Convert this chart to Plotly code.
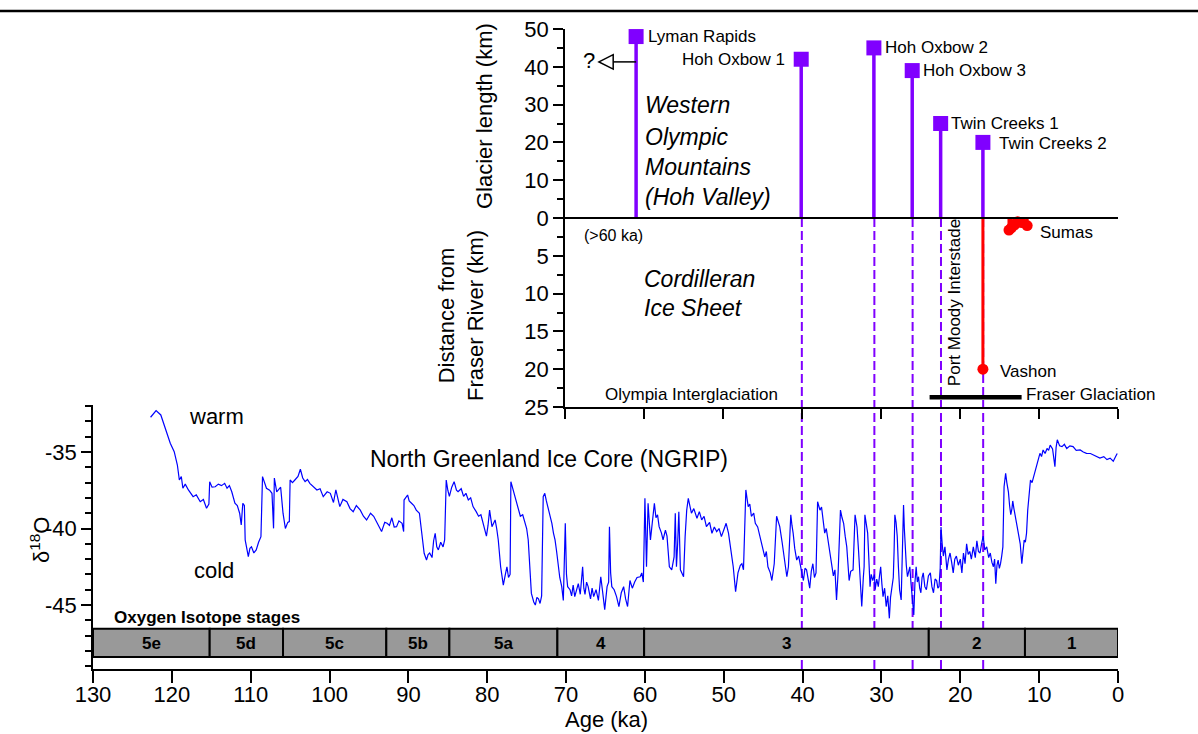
import plotly.graph_objects as go

W, H = 1198, 734
FONT = "Arial, Liberation Sans, sans-serif"
PURPLE = "#8000FF"
RED = "#FF0000"

# ---------------- data ----------------
ngrip_age = [122.7, 122.0, 121.4, 120.9, 120.5, 120.2, 119.7, 119.3, 119.05, 118.8, 118.6, 118.3, 117.9, 117.6, 117.3,
             116.9, 116.4, 116.0, 115.6, 115.3, 115.2, 114.9, 114.5, 114.1, 113.7, 113.3, 113.0, 112.7, 112.4, 112.0,
             111.7, 111.4, 111.2, 111.0, 110.8, 110.7, 110.5, 110.3, 110.1, 109.9, 109.6, 109.3, 109.0, 108.7, 108.5,
             108.2, 108.0, 107.6, 107.3, 107.1, 107.0, 106.7, 106.5, 106.2, 105.9, 105.6, 105.3, 105.1, 105.0, 104.7,
             104.4, 104.0, 103.7, 103.4, 103.1, 102.8, 102.5, 102.0, 101.6, 101.2, 100.8, 100.3, 99.9, 99.5, 99.2,
             98.7, 98.3, 97.8, 97.4, 97.0, 96.6, 96.1, 95.7, 95.3, 94.8, 94.4, 93.9, 93.4, 93.0, 92.7,
             92.4, 92.1, 91.8, 91.5, 91.2, 90.8, 90.6, 90.55, 90.1, 89.9, 89.6, 89.3, 89.0, 88.6, 88.3,
             88.0, 87.7, 87.5, 87.3, 87.0, 86.8, 86.6, 86.4, 86.2, 85.9, 85.6, 85.4, 85.2, 85.0, 84.8,
             84.5, 84.2, 83.9, 83.7, 83.3, 83.0, 82.7, 82.4, 82.1, 81.8, 81.4, 81.1, 80.8, 80.5, 80.1,
             79.9, 79.7, 79.4, 79.0, 78.8, 78.6, 78.3, 78.1, 77.96, 77.7, 77.5, 77.3, 77.1, 77.0, 76.8,
             76.5, 76.2, 75.8, 75.5, 75.2, 75.0, 74.8, 74.6, 74.4, 74.1, 73.9, 73.7, 73.5, 73.3, 73.1,
             72.9, 72.7, 72.5, 72.3, 72.0, 71.8, 71.6, 71.4, 71.2, 71.0, 70.8, 70.55, 70.35, 70.1, 69.95,
             69.8, 69.5, 69.3, 69.1, 68.9, 68.7, 68.45, 68.2, 67.9, 67.75, 67.6, 67.4, 67.2, 66.9, 66.7,
             66.5, 66.2, 65.9, 65.6, 65.35, 65.1, 64.8, 64.6, 64.5, 64.35, 64.2, 63.9, 63.6, 63.3, 63.0,
             62.7, 62.45, 62.2, 61.9, 61.6, 61.3, 61.0, 60.6, 60.4, 60.2, 60.0, 59.8, 59.6, 59.3, 59.0,
             58.8, 58.6, 58.4, 58.2, 57.9, 57.7, 57.4, 57.2, 56.9, 56.6, 56.3, 56.15, 56.0, 55.85, 55.7,
             55.5, 55.1, 54.9, 54.7, 54.5, 54.3, 54.1, 53.8, 53.4, 53.1, 52.8, 52.5, 52.2, 51.8, 51.5,
             51.2, 50.9, 50.6, 50.3, 50.0, 49.7, 49.4, 49.2, 48.8, 48.5, 48.3, 48.2, 47.9, 47.7, 47.5,
             47.2, 47.0, 46.9, 46.7, 46.5, 46.2, 46.0, 45.7, 45.5, 45.3, 45.1, 44.8, 44.6, 44.4, 44.1,
             43.9, 43.6, 43.3, 43.1, 42.9, 42.6, 42.4, 42.2, 42.0, 41.8, 41.5, 41.35, 41.2, 41.0, 40.75,
             40.5, 40.3, 40.1, 39.9, 39.7, 39.5, 39.3, 39.1, 38.9, 38.7, 38.5, 38.3, 38.1, 37.95, 37.8,
             37.6, 37.45, 37.2, 37.0, 36.7, 36.5, 36.4, 36.2, 36.1, 35.9, 35.7, 35.5, 35.35, 35.2, 35.0,
             34.8, 34.6, 34.4, 34.25, 34.1, 33.9, 33.6, 33.35, 33.2, 33.1, 32.9, 32.7, 32.5, 32.3, 32.2,
             32.1, 31.9, 31.75, 31.6, 31.45, 31.3, 31.1, 30.9, 30.8, 30.6, 30.4, 30.25, 30.1, 29.95, 29.8,
             29.6, 29.4, 29.2, 29.0, 28.85, 28.7, 28.5, 28.4, 28.3, 28.15, 28.0, 27.85, 27.7, 27.5, 27.35,
             27.2, 27.1, 27.0, 26.85, 26.7, 26.55, 26.4, 26.25, 26.1, 25.9, 25.75, 25.6, 25.45, 25.3, 25.15,
             25.0, 24.85, 24.7, 24.5, 24.3, 24.05, 23.8, 23.6, 23.4, 23.2, 23.0, 22.85, 22.7, 22.55, 22.45,
             22.3, 22.15, 21.95, 21.7, 21.5, 21.3, 21.1, 20.9, 20.7, 20.5, 20.25, 20.0, 19.8, 19.6, 19.4,
             19.2, 19.0, 18.8, 18.6, 18.35, 18.1, 17.9, 17.7, 17.5, 17.3, 17.1, 16.9, 16.65, 16.4, 16.2,
             16.0, 15.8, 15.65, 15.5, 15.35, 15.2, 15.05, 14.9, 14.75, 14.6, 14.45, 14.25, 14.1, 13.9, 13.75,
             13.6, 13.45, 13.35, 13.2, 13.1, 12.95, 12.8, 12.6, 12.4, 12.2, 12.05, 11.9, 11.75, 11.6, 11.45,
             11.3, 11.1, 10.9, 10.7, 10.5, 10.3, 10.1, 9.9, 9.7, 9.5, 9.25, 9.0, 8.8, 8.6, 8.3,
             8.0, 7.85, 7.7, 7.4, 7.1, 6.8, 6.5, 6.1, 5.7, 5.3, 4.8, 4.4, 4.0, 3.5, 3.1,
             2.7, 2.3, 1.8, 1.4, 1.0, 0.6, 0.3, 0.1]
ngrip_d18o = [-32.73, -32.3, -32.58, -33.35, -33.9, -34.43, -34.98, -35.85, -36.83, -36.6, -37.37, -37.1, -37.48, -37.7, -37.92,
              -37.8, -38.25, -38.1, -38.68, -38.4, -36.94, -37.3, -37.27, -37.1, -37.2, -37.05, -37.37, -37.2, -37.6, -38.35,
              -38.5, -39.0, -39.77, -38.35, -38.5, -40.75, -41.4, -41.84, -41.3, -41.2, -41.6, -41.4, -40.9, -40.53, -36.61,
              -37.1, -37.37, -37.5, -37.7, -39.99, -36.7, -37.6, -37.5, -37.3, -39.0, -40.0, -39.6, -39.55, -36.83, -37.0,
              -36.83, -36.6, -36.13, -36.7, -36.94, -36.8, -37.05, -37.3, -37.48, -37.4, -37.92, -37.6, -37.7, -38.3, -37.48,
              -38.57, -38.1, -38.25, -38.7, -38.9, -38.5, -38.8, -39.2, -39.44, -39.0, -39.2, -39.7, -40.2, -39.6, -39.66,
              -39.8, -39.3, -39.9, -39.88, -39.5, -39.66, -40.2, -38.14, -37.81, -38.2, -38.35, -38.5, -38.8, -39.0, -40.31,
              -41.62, -42.06, -41.7, -41.6, -41.9, -40.8, -40.31, -41.2, -41.4, -40.9, -41.2, -40.75, -36.83, -37.5, -37.9,
              -37.3, -36.94, -37.5, -37.6, -37.4, -37.9, -37.7, -38.14, -38.0, -38.57, -38.9, -39.2, -39.1, -39.66, -40.5,
              -39.8, -38.8, -39.88, -39.44, -40.0, -40.75, -42.5, -43.2, -43.7, -43.0, -42.5, -43.2, -43.0, -36.94, -37.3,
              -37.9, -38.4, -39.2, -39.1, -39.66, -40.0, -40.75, -42.5, -44.24, -44.8, -45.0, -44.5, -44.6, -44.9, -44.4,
              -37.92, -37.7, -38.2, -38.57, -39.3, -39.66, -40.3, -40.75, -41.5, -42.28, -43.2, -43.8, -44.7, -39.66, -43.0,
              -43.8, -44.0, -44.4, -43.7, -44.45, -44.0, -43.6, -44.3, -42.5, -43.9, -44.3, -43.5, -43.8, -44.6, -43.9,
              -44.45, -44.0, -44.7, -43.15, -44.2, -45.3, -43.8, -43.5, -39.88, -42.9, -43.8, -44.0, -44.45, -45.1, -44.2,
              -43.8, -44.6, -45.1, -43.4, -43.9, -43.5, -43.2, -43.15, -42.9, -43.5, -38.03, -42.5, -38.35, -40.75, -39.5,
              -38.35, -39.3, -39.1, -39.88, -40.3, -40.75, -40.1, -40.5, -42.5, -42.7, -41.86, -39.0, -42.5, -41.0, -38.9,
              -42.7, -43.15, -40.53, -38.8, -38.03, -38.6, -39.0, -38.7, -39.33, -38.9, -39.44, -39.2, -39.88, -39.6, -40.31,
              -39.9, -40.2, -40.0, -40.53, -40.1, -39.66, -40.3, -40.97, -42.5, -44.13, -43.2, -42.9, -42.4, -42.3, -42.7,
              -37.48, -38.2, -38.57, -38.4, -39.2, -39.0, -39.66, -39.9, -40.31, -40.6, -41.2, -41.86, -41.5, -42.5, -42.9,
              -43.4, -42.3, -39.2, -39.6, -39.88, -40.9, -41.6, -42.4, -43.15, -42.5, -39.1, -39.8, -40.3, -41.3, -42.06,
              -41.8, -42.5, -42.9, -43.4, -42.6, -42.7, -43.2, -43.9, -42.8, -42.3, -43.2, -42.9, -38.25, -38.6, -38.8,
              -38.6, -39.2, -40.3, -40.0, -41.0, -41.5, -41.8, -42.6, -43.1, -42.7, -44.67, -42.9, -40.5, -38.8, -39.3,
              -39.66, -40.5, -41.2, -42.3, -43.4, -42.8, -42.7, -39.1, -39.5, -39.9, -41.5, -43.1, -45.1, -43.2, -42.5,
              -39.1, -39.7, -40.3, -42.0, -43.8, -43.0, -43.4, -43.0, -44.0, -43.3, -43.8, -43.1, -42.5, -43.6, -44.45,
              -43.9, -45.1, -44.4, -45.87, -44.5, -43.8, -43.2, -41.5, -39.1, -39.6, -40.5, -42.5, -44.0, -44.67, -42.0,
              -38.46, -40.0, -41.4, -42.4, -43.15, -42.8, -42.5, -43.6, -44.67, -45.65, -43.5, -42.5, -43.5, -43.15, -43.9,
              -44.2, -43.2, -42.9, -43.8, -44.0, -43.1, -42.9, -43.8, -44.2, -43.3, -43.4, -43.9, -43.8, -42.6, -39.9,
              -41.0, -41.8, -41.2, -42.7, -42.0, -41.6, -42.2, -42.9, -42.0, -41.8, -42.4, -42.0, -42.9, -41.6, -42.3,
              -41.0, -41.7, -41.5, -42.0, -41.2, -41.9, -40.8, -41.5, -41.6, -41.0, -40.5, -41.4, -41.2, -41.9, -41.6,
              -42.2, -42.5, -42.0, -43.6, -42.4, -42.06, -42.6, -42.3, -41.8, -41.2, -37.27, -36.4, -37.0, -37.6, -38.5,
              -39.1, -38.7, -38.2, -38.7, -39.0, -39.6, -39.9, -40.5, -41.0, -42.3, -41.2, -40.75, -40.9, -40.3, -38.8,
              -37.7, -36.83, -37.0, -36.6, -36.2, -35.96, -35.5, -35.09, -35.3, -34.87, -35.1, -34.77, -34.9, -34.55, -34.8,
              -35.96, -34.7, -34.2, -34.6, -34.65, -34.5, -34.77, -34.6, -34.65, -34.9, -34.87, -35.0, -35.09, -35.1, -35.2,
              -35.3, -35.4, -35.3, -35.5, -35.4, -35.6, -35.3, -35.1]

site_names = ["Lyman Rapids", "Hoh Oxbow 1", "Hoh Oxbow 2", "Hoh Oxbow 3", "Twin Creeks 1", "Twin Creeks 2"]
site_age = [61.0, 40.1, 30.9, 26.05, 22.45, 17.1]
site_length_km = [48, 42, 45, 39, 25, 20]
dashed_sites = [1, 2, 3, 4, 5]

vashon_age = [17.1]
vashon_dist_km = [20]
sumas_age = [13.8, 13.5, 13.1, 12.7, 12.2, 11.5]
sumas_dist_km = [1.6, 1.3, 0.9, 0.5, 0.6, 1.0]

fraser_glaciation_ka = [23.85, 12.2]

stage_labels = ["5e", "5d", "5c", "5b", "5a", "4", "3", "2", "1"]
stage_bounds_ka = [130, 115.2, 105.9, 92.8, 84.8, 71.1, 60.1, 24.0, 11.8, 0]

x_ticks_ka = [130, 120, 110, 100, 90, 80, 70, 60, 50, 40, 30, 20, 10, 0]
d18o_ticks = [-35, -40, -45]
top_tickvals = [50, 40, 30, 20, 10, 0, -10, -20, -30, -40, -50]
top_ticktext = ["50", "40", "30", "20", "10", "0", "5", "10", "15", "20", "25"]


def dist(d):
    # distance below Fraser River plotted at 2x scale, downward
    return -2.0 * d


def px(p):
    return p / W


def py(p):
    return 1 - p / H


fig = go.Figure()

# NGRIP curve
fig.add_trace(go.Scatter(x=ngrip_age, y=ngrip_d18o, mode="lines",
                         line=dict(color="#0000FF", width=1.2), xaxis="x", yaxis="y",
                         hoverinfo="skip"))

# glacier stems
sx, sy = [], []
for a, L in zip(site_age, site_length_km):
    sx += [a, a, None]
    sy += [0, L, None]
fig.add_trace(go.Scatter(x=sx, y=sy, mode="lines", line=dict(color=PURPLE, width=3.5),
                         xaxis="x2", yaxis="y2", hoverinfo="skip"))
fig.add_trace(go.Scatter(x=site_age, y=site_length_km, mode="markers",
                         marker=dict(symbol="square", size=15, color=PURPLE),
                         xaxis="x2", yaxis="y2", hoverinfo="skip"))

# Cordilleran ice sheet stems
cx, cy = [], []
for a, d in zip(vashon_age + sumas_age, vashon_dist_km + sumas_dist_km):
    cx += [a, a, None]
    cy += [0, dist(d), None]
fig.add_trace(go.Scatter(x=cx, y=cy, mode="lines", line=dict(color=RED, width=3),
                         xaxis="x2", yaxis="y2", hoverinfo="skip"))
fig.add_trace(go.Scatter(x=vashon_age + sumas_age,
                         y=[dist(d) for d in vashon_dist_km + sumas_dist_km], mode="markers",
                         marker=dict(symbol="circle", size=11, color=RED),
                         xaxis="x2", yaxis="y2", hoverinfo="skip"))

# Fraser glaciation bar
fig.add_trace(go.Scatter(x=fraser_glaciation_ka, y=[dist(23.7), dist(23.7)], mode="lines",
                         line=dict(color="black", width=4.5), xaxis="x2", yaxis="y2",
                         hoverinfo="skip"))

shapes = []
# top rule line
shapes.append(dict(type="line", xref="paper", yref="paper", x0=0, x1=1, y0=py(11), y1=py(11),
                   line=dict(color="black", width=2.5)))
# oxygen isotope stage boxes
for i in range(len(stage_labels)):
    shapes.append(dict(type="rect", xref="x", yref="y", x0=stage_bounds_ka[i], x1=stage_bounds_ka[i + 1],
                       y0=-46.55, y1=-48.4, fillcolor="#999999", line=dict(color="black", width=2),
                       layer="below"))
# dashed lines through both panels
for i in dashed_sites:
    shapes.append(dict(type="line", xref="x", yref="paper", x0=site_age[i], x1=site_age[i],
                       y0=py(669), y1=py(218), line=dict(color=PURPLE, width=2, dash="9px,4px"),
                       layer="below"))
# zero line in top panel
shapes.append(dict(type="line", xref="x2", yref="y2", x0=70, x1=0, y0=0, y1=0,
                   line=dict(color="black", width=1.8)))
# "?" arrow
shapes.append(dict(type="line", xref="x2", yref="y2", x0=site_age[0], x1=63.9, y0=41.3, y1=41.3,
                   line=dict(color="black", width=1.5)))
shapes.append(dict(type="path", xref="x2", yref="y2",
                   path="M 65.7,41.3 L 63.9,43.2 L 63.9,39.4 Z",
                   fillcolor="white", line=dict(color="black", width=1.5)))

ann = []


def A(text, x, y, xref="paper", yref="paper", size=17, xanchor="center", yanchor="middle",
      angle=0, italic=False, bold=False):
    t = text
    if bold:
        t = "<b>" + t + "</b>"
    if italic:
        t = "<i>" + t + "</i>"
    ann.append(dict(text=t, x=x, y=y, xref=xref, yref=yref, showarrow=False, xanchor=xanchor,
                    yanchor=yanchor, textangle=angle, font=dict(family=FONT, size=size, color="black")))


# axis titles
A("Glacier length (km)", px(484), py(116), size=22, angle=-90)
A("Distance from<br>Fraser River (km)", px(461), py(316), size=22, angle=-90)
A("δ<sup>18</sup>O", px(40), py(540), size=22, angle=-90)
A("Age (ka)", px(606), py(719), size=22)

# site labels
A(site_names[0], 59.7, 47.9, "x2", "y2", xanchor="left")
A(site_names[1], 41.85, 41.8, "x2", "y2", xanchor="right")
A(site_names[2], 29.7, 45.0, "x2", "y2", xanchor="left")
A(site_names[3], 25.0, 38.9, "x2", "y2", xanchor="left")
A(site_names[4], 21.4, 25.1, "x2", "y2", xanchor="left")
A(site_names[5], 15.35, 19.8, "x2", "y2", xanchor="left")
A("?", 66.9, 41.6, "x2", "y2", size=22)

for txt, yy in zip(["Western", "Olympic", "Mountains", "(Hoh Valley)"], [29.8, 21.5, 13.6, 5.5]):
    A(txt, 60.1, yy, "x2", "y2", size=23, xanchor="left", italic=True)
A("(>60 ka)", 67.9, dist(2.25), "x2", "y2", size=16, xanchor="left")
A("Cordilleran", 60.2, dist(8.1), "x2", "y2", size=23, xanchor="left", italic=True)
A("Ice Sheet", 60.2, dist(11.9), "x2", "y2", size=23, xanchor="left", italic=True)
A("Port Moody Interstade", 20.7, dist(11.2), "x2", "y2", size=17, angle=-90)
A("Vashon", 15.25, dist(20.3), "x2", "y2", xanchor="left")
A("Sumas", 10.1, dist(1.95), "x2", "y2", xanchor="left")
A("Olympia Interglaciation", 54.0, dist(23.4), "x2", "y2")
A("Fraser Glaciation", 11.85, dist(23.4), "x2", "y2", xanchor="left")

# bottom panel texts
A("warm", 114.3, -32.65, "x", "y", size=22)
A("cold", 114.6, -42.75, "x", "y", size=22)
A("North Greenland Ice Core (NGRIP)", 72.2, -35.45, "x", "y", size=23)
A("Oxygen Isotope stages", 127.6, -45.8, "x", "y", size=17, xanchor="left", bold=True)
for i, lab in enumerate(stage_labels):
    A(lab, (stage_bounds_ka[i] + stage_bounds_ka[i + 1]) / 2, -47.5, "x", "y", size=17, bold=True)

axis_common = dict(showgrid=False, zeroline=False, showline=True, linecolor="black", linewidth=1.5,
                   ticks="outside", tickcolor="black", tickwidth=1.5,
                   tickfont=dict(family=FONT, size=22, color="black"))

fig.update_layout(
    width=W, height=H, margin=dict(l=0, r=0, t=0, b=0, pad=0),
    paper_bgcolor="white", plot_bgcolor="rgba(0,0,0,0)", showlegend=False,
    font=dict(family=FONT, color="black"),
    xaxis=dict(domain=[px(93), px(1118)], range=[130, 0], anchor="y",
               tickmode="array", tickvals=x_ticks_ka, ticktext=[str(v) for v in x_ticks_ka],
               ticklen=12, ticklabelstandoff=-7, automargin=False, **axis_common),
    yaxis=dict(domain=[py(669), py(405)], range=[-49.18, -31.93], anchor="x",
               tickmode="array", tickvals=d18o_ticks, ticktext=["-35", "-40", "-45"],
               ticklen=10, automargin=False,
               minor=dict(tickmode="linear", tick0=-35, dtick=1, ticks="outside", ticklen=6,
                          tickcolor="black", tickwidth=1.5),
               **axis_common),
    xaxis2=dict(domain=[px(565), px(1118)], range=[70, 0], anchor="y2",
                tickmode="array", tickvals=[70, 60, 50, 40, 30, 20, 10, 0], showticklabels=False,
                ticklen=10, automargin=False, **axis_common),
    yaxis2=dict(domain=[py(407), py(29)], range=[-50, 50], anchor="x2",
                tickmode="array", tickvals=top_tickvals, ticktext=top_ticktext,
                ticklen=10, automargin=False,
                minor=dict(tickmode="linear", tick0=0, dtick=5, ticks="outside", ticklen=6,
                           tickcolor="black", tickwidth=1.5),
                **axis_common),
    shapes=shapes, annotations=ann,
)

fig.write_html("out.html")
